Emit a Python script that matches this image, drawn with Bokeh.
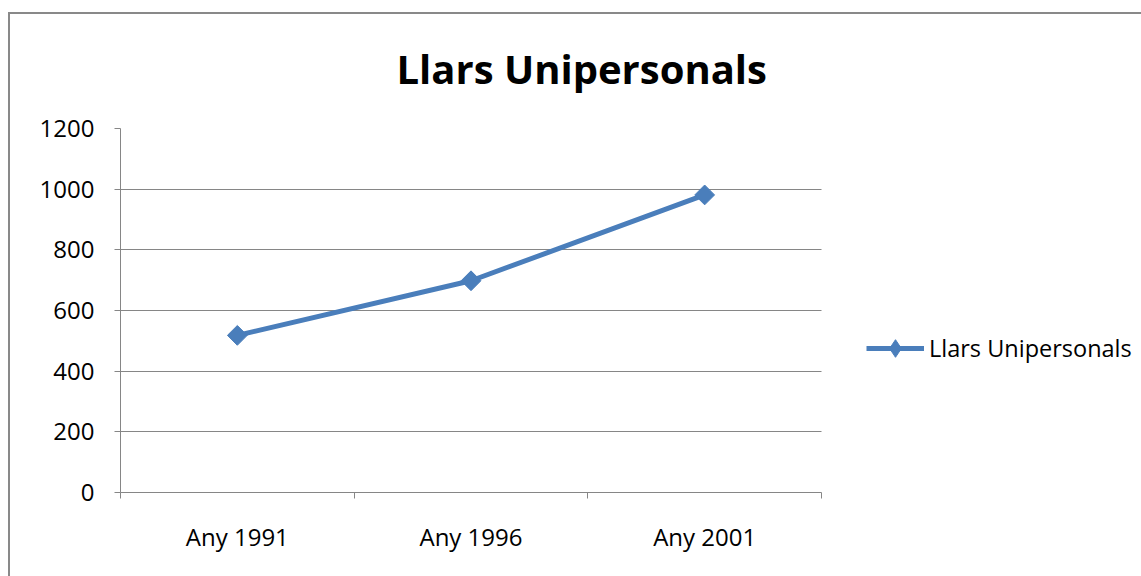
from bokeh.plotting import figure
from bokeh.models import (Range1d, FixedTicker, Legend, LegendItem, ColumnDataSource)
from bokeh.embed import file_html
from bokeh.resources import INLINE

# ---- data ----
categories = ["Any 1991", "Any 1996", "Any 2001"]
values = [518, 698, 981]
series_name = "Llars Unipersonals"
title_text = "Llars Unipersonals"
y_ticks = [0, 200, 400, 600, 800, 1000, 1200]

FONT = "Open Sans"
GRID = "#868686"
BLUE = "#4A7EBB"
BORDER = "#898989"

W, H = 1141, 576
LEFT, TOP, BOTTOM = 120, 128, 84
PLOT_W = 701                       # width of the category area in px
frame_w = W - LEFT
n = len(categories)
x_end = n * frame_w / PLOT_W       # extra room on the right hosts the legend

x_pos = [i + 0.5 for i in range(n)]
src = ColumnDataSource(dict(x=x_pos, y=values, cat=categories))

p = figure(width=W, height=H, output_backend="svg", toolbar_location=None,
           x_range=Range1d(0, x_end), y_range=Range1d(0, 1200),
           min_border_left=LEFT, min_border_right=0, min_border_top=TOP,
           min_border_bottom=BOTTOM)
p.outline_line_color = None
p.background_fill_alpha = 0
p.border_fill_alpha = 0

# outer chart border (left and top edges visible, rest runs off the page)
p.styles = {
    "background-color": "white",
    "background-image": f"linear-gradient({BORDER},{BORDER}), linear-gradient({BORDER},{BORDER})",
    "background-position": "8px 12px, 8px 12px",
    "background-size": "2px 100%, 100% 2px",
    "background-repeat": "no-repeat, no-repeat",
}

# title
p.title.text = title_text
p.title.align = "left"
p.title.offset = 276
p.title.text_font = FONT
p.title.text_font_style = "bold"
p.title.text_font_size = "40px"
p.title.text_color = "black"
p.title.standoff = 66

# y axis
p.yaxis.ticker = FixedTicker(ticks=y_ticks)
p.yaxis.axis_line_color = GRID
p.yaxis.major_tick_line_color = GRID
p.yaxis.major_tick_out = 6
p.yaxis.major_tick_in = 0
p.yaxis.minor_tick_line_color = None
p.yaxis.major_label_standoff = 20
p.yaxis.major_label_text_font = FONT
p.yaxis.major_label_text_font_size = "24px"
p.yaxis.major_label_text_color = "black"

# x axis: labels at category centres, ticks at category boundaries
p.xaxis.ticker = FixedTicker(ticks=x_pos, minor_ticks=list(range(n + 1)))
p.xaxis.major_label_overrides = {x: c for x, c in zip(x_pos, categories)}
p.xaxis.bounds = (0, n)
p.xaxis.axis_line_color = GRID
p.xaxis.major_tick_line_color = None
p.xaxis.major_tick_out = 0
p.xaxis.major_tick_in = 0
p.xaxis.minor_tick_line_color = GRID
p.xaxis.minor_tick_out = 6
p.xaxis.minor_tick_in = 0
p.xaxis.major_label_standoff = 21
p.xaxis.major_label_text_font = FONT
p.xaxis.major_label_text_font_size = "24px"
p.xaxis.major_label_text_color = "black"

p.xgrid.grid_line_color = None
p.ygrid.ticker = FixedTicker(ticks=y_ticks)
p.ygrid.grid_line_color = GRID
p.ygrid.grid_line_width = 1
p.ygrid.cross_bounds = (0, n)

# series
ln = p.line("x", "y", source=src, line_color=BLUE, line_width=5)
# narrow diamond (hidden beneath the rotated squares) that supplies the legend swatch
lg_mk = p.scatter("x", "y", source=src, marker="diamond", size=13,
                  fill_color=BLUE, line_color=BLUE)
mk = p.scatter("x", "y", source=src, marker="square", angle=0.785398, size=14,
               fill_color=BLUE, line_color=BLUE)

legend = Legend(items=[LegendItem(label=series_name, renderers=[ln, lg_mk])],
                location=(746, 122), border_line_color=None,
                background_fill_alpha=0, padding=0, margin=0,
                glyph_width=58, glyph_height=44, label_standoff=5,
                label_text_font=FONT, label_text_font_size="23.5px",
                label_text_color="black")
p.add_layout(legend, "center")

open("out.html", "w").write(file_html(p, INLINE))
